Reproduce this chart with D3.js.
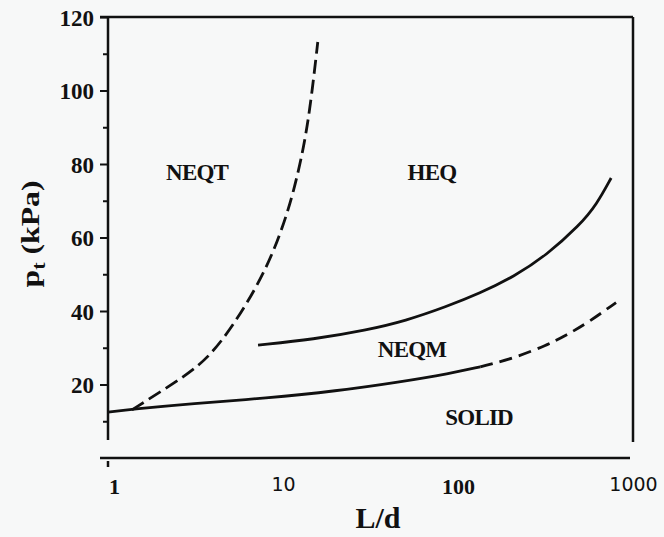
<!DOCTYPE html>
<html>
<head>
<meta charset="utf-8">
<script src="https://cdn.jsdelivr.net/npm/d3@7"></script>
<style>
  body { margin: 0; background: #f7f8f8; }
  svg { display: block; }
</style>
</head>
<body>
<div id="chart"></div>
<script>
// L/d values and p_t (kPa), one pair of arrays per curve
const neqtLd = [1.37, 2.12, 3.36, 4.48, 6.07, 8.1, 10, 11.7, 13.4, 14.6, 15.8];
const neqtP  = [13.1, 18.8, 25.1, 31.8, 41.1, 51.9, 62.9, 73.7, 86.5, 98.8, 113.2];

const heqLd = [7.2, 15, 30, 50, 86, 133, 208, 321, 497, 620, 750];
const heqP  = [30.7, 32.3, 34.8, 37.3, 41.2, 44.8, 49.3, 55.2, 63.4, 69, 76.2];

const solidLd = [1, 1.4, 3, 8.1, 20, 46.6, 90, 134];
const solidP  = [12.5, 13.3, 14.8, 16.3, 18.2, 20.7, 23, 24.8];

const solidDashLd = [134, 207, 322, 418, 544, 800];
const solidDashP  = [24.8, 27.1, 30.7, 33.5, 36.6, 42.3];

const yMajor = [20, 40, 60, 80, 100, 120];
const yMinor = [10, 30, 50, 70, 90, 110];
const xTicks = [1, 10, 100, 1000];
// the scanned labels mix two typefaces
const xTickFont = {1: "serif", 10: "sans", 100: "serif", 1000: "sans"};

const regions = [
  {name: "NEQT", ld: 3.23, p: 75.6},
  {name: "HEQ", ld: 71, p: 75.6},
  {name: "NEQM", ld: 54.6, p: 27.5},
  {name: "SOLID", ld: 132, p: 9}
];

const W = 664, H = 537;
const x = d3.scaleLog().domain([1, 1000]).range([108, 633]);
const y = d3.scaleLinear().domain([0, 120]).range([458, 17]);

const serif = "'Liberation Serif', 'Times New Roman', serif";
const sans = "'DejaVu Sans', sans-serif";
const ink = "#111";

const svg = d3.select("#chart").append("svg")
  .attr("width", W).attr("height", H);

// frame: top, left, right, bottom (bottom is detached from the sides)
function rule(x1, y1, x2, y2) {
  svg.append("line").attr("x1", x1).attr("y1", y1).attr("x2", x2).attr("y2", y2)
    .attr("stroke", ink).attr("stroke-width", 2.5);
}
rule(100, y(120), x(1000), y(120));
rule(x(1), y(120), x(1), 440);
rule(x(1000), y(120), x(1000), 442);
rule(100, y(0), 630, y(0));
rule(x(1), 461, x(1), 467);

// y axis ticks
let yAx = svg.append("g").attr("transform", "translate(" + x(1) + ",0)")
  .call(d3.axisLeft(y).tickValues(yMajor).tickSize(8).tickPadding(6));
yAx.select(".domain").remove();
yAx.selectAll("line").attr("stroke", ink).attr("stroke-width", 2);
yAx.selectAll("text").attr("font-family", serif).attr("font-weight", "bold")
  .attr("font-size", 23).attr("fill", ink).attr("dy", "0.36em");

let yMin = svg.append("g").attr("transform", "translate(" + x(1) + ",0)")
  .call(d3.axisLeft(y).tickValues(yMinor).tickSize(5).tickFormat(""));
yMin.select(".domain").remove();
yMin.selectAll("line").attr("stroke", ink).attr("stroke-width", 2);

// x axis labels
let xAx = svg.append("g").attr("transform", "translate(0," + y(0) + ")")
  .call(d3.axisBottom(x).tickValues(xTicks).tickSize(0).tickPadding(20).tickFormat(d3.format("d")));
xAx.select(".domain").remove();
xAx.selectAll("text")
  .attr("font-family", d => xTickFont[d] == "serif" ? serif : sans)
  .attr("font-weight", d => xTickFont[d] == "serif" ? "bold" : "normal")
  .attr("font-size", d => xTickFont[d] == "serif" ? 22 : 19)
  .attr("fill", ink)
  .attr("dx", d => d == 1 ? 6 : 0);

// axis titles
svg.append("text").attr("font-family", serif).attr("font-weight", "bold")
  .attr("font-size", 30).attr("fill", ink)
  .attr("x", 378).attr("y", 528).attr("text-anchor", "middle").text("L/d");

let yt = svg.append("text").attr("font-family", serif).attr("font-weight", "bold")
  .attr("font-size", 26).attr("fill", ink)
  .attr("transform", "translate(39,234) rotate(-90)")
  .attr("text-anchor", "middle")
  .attr("textLength", 107).attr("lengthAdjust", "spacingAndGlyphs");
yt.append("tspan").text("p");
yt.append("tspan").attr("font-size", 18).attr("dy", 6).text("t");
yt.append("tspan").attr("dy", -6).text("\u00a0(kPa)");

// curves (smoothed the way the hand-drawn original is)
const line = d3.line().x(d => x(d[0])).y(d => y(d[1])).curve(d3.curveBasis);
function drawCurve(ld, p, dash) {
  svg.append("path")
    .datum(d3.zip(ld, p))
    .attr("d", line)
    .attr("fill", "none")
    .attr("stroke", ink)
    .attr("stroke-width", 2.8)
    .attr("stroke-dasharray", dash);
}
drawCurve(solidLd, solidP, null);
drawCurve(solidDashLd, solidDashP, "13,7");
drawCurve(heqLd, heqP, null);
drawCurve(neqtLd, neqtP, "14,6");

// region names
svg.selectAll(".region").data(regions).join("text")
  .attr("class", "region")
  .attr("font-family", serif).attr("font-weight", "bold")
  .attr("font-size", 23)
  .attr("fill", ink)
  .attr("letter-spacing", -0.8)
  .attr("x", d => x(d.ld)).attr("y", d => y(d.p))
  .attr("text-anchor", "middle")
  .text(d => d.name);
</script>
</body>
</html>
